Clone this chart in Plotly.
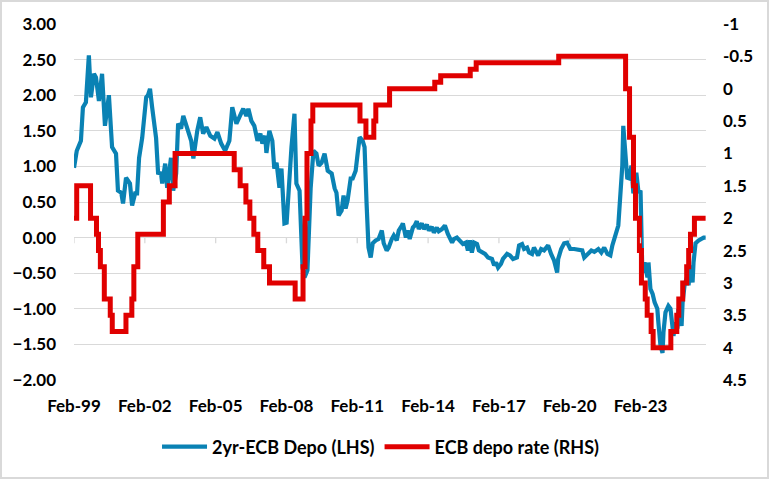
import plotly.graph_objects as go

# 2yr yield minus ECB depo (LHS)
blue_dates = [
    "1999-02-01", "1999-03-16", "1999-05-19", "1999-06-19", "1999-08-04", "1999-09-19", "1999-10-21",
    "1999-12-07", "2000-01-07", "2000-02-22", "2000-04-10", "2000-05-25", "2000-07-25", "2000-09-12",
    "2000-11-12", "2000-12-12", "2001-02-01", "2001-03-01", "2001-04-16", "2001-06-16", "2001-07-19",
    "2001-09-04", "2001-10-04", "2001-11-04", "2001-12-22", "2002-02-22", "2002-03-22", "2002-04-22",
    "2002-05-25", "2002-07-25", "2002-08-25", "2002-10-10", "2002-10-28", "2002-12-13", "2003-01-13",
    "2003-03-13", "2003-04-16", "2003-06-01", "2003-07-01", "2003-08-16", "2003-09-19", "2003-11-19",
    "2004-01-19", "2004-02-22", "2004-04-22", "2004-06-07", "2004-07-22", "2004-09-10", "2004-11-10",
    "2005-01-13", "2005-02-28", "2005-04-28", "2005-06-28", "2005-09-01", "2005-10-16", "2005-12-19",
    "2006-02-19", "2006-04-04", "2006-05-22", "2006-06-22", "2006-08-07", "2006-09-22", "2006-11-10",
    "2006-12-25", "2007-01-25", "2007-03-10", "2007-03-28", "2007-05-13", "2007-06-28", "2007-07-28",
    "2007-09-01", "2007-10-16", "2007-11-16", "2008-01-01", "2008-02-04", "2008-03-19", "2008-04-19",
    "2008-06-04", "2008-07-04", "2008-08-22", "2008-10-07", "2008-11-07", "2008-12-22", "2009-02-10",
    "2009-03-25", "2009-05-10", "2009-06-13", "2009-07-28", "2009-09-13", "2009-11-01", "2010-01-01",
    "2010-02-16", "2010-03-16", "2010-04-19", "2010-06-04", "2010-07-04", "2010-08-04", "2010-09-04",
    "2010-10-22", "2010-11-22", "2011-01-07", "2011-02-07", "2011-03-10", "2011-04-25", "2011-05-25",
    "2011-06-25", "2011-07-25", "2011-08-28", "2011-09-28", "2011-11-13", "2011-12-28", "2012-02-16",
    "2012-03-16", "2012-05-01", "2012-06-01", "2012-07-19", "2012-08-19", "2012-10-04", "2012-11-04",
    "2012-12-22", "2013-01-07", "2013-02-22", "2013-03-22", "2013-04-22", "2013-06-10", "2013-07-10",
    "2013-08-10", "2013-09-10", "2013-10-28", "2013-11-28", "2014-01-13", "2014-02-13", "2014-04-01",
    "2014-05-01", "2014-06-16", "2014-07-16", "2014-09-04", "2014-10-19", "2014-12-04", "2015-02-07",
    "2015-03-07", "2015-04-22", "2015-06-07", "2015-07-25", "2015-09-10", "2015-10-10", "2015-11-10",
    "2015-12-10", "2016-01-13", "2016-02-28", "2016-03-28", "2016-05-13", "2016-07-01", "2016-08-16",
    "2016-10-16", "2016-11-19", "2016-12-19", "2017-01-19", "2017-03-04", "2017-04-04", "2017-06-07",
    "2017-07-22", "2017-09-07", "2017-11-07", "2017-12-10", "2018-01-25", "2018-02-25", "2018-04-13",
    "2018-05-13", "2018-06-28", "2018-07-28", "2018-10-01", "2018-11-16", "2019-01-01", "2019-03-04",
    "2019-04-19", "2019-06-04", "2019-07-22", "2019-08-07", "2019-09-22", "2019-11-07", "2019-12-25",
    "2020-02-10", "2020-04-10", "2020-06-13", "2020-08-13", "2020-09-13", "2020-11-16", "2021-01-01",
    "2021-02-16", "2021-04-19", "2021-06-04", "2021-07-19", "2021-09-07", "2021-10-22", "2021-11-22",
    "2022-01-07", "2022-02-22", "2022-03-22", "2022-04-25", "2022-05-10", "2022-06-10", "2022-07-10",
    "2022-08-13", "2022-09-13", "2022-10-13", "2022-11-28", "2023-01-01", "2023-02-01", "2023-03-01",
    "2023-04-04", "2023-05-19", "2023-06-04", "2023-07-04", "2023-08-07", "2023-09-07", "2023-10-19",
    "2023-11-04", "2023-12-07", "2024-01-07", "2024-01-22", "2024-02-22", "2024-04-07", "2024-05-10",
    "2024-06-10", "2024-06-25", "2024-07-25", "2024-08-25", "2024-09-10", "2024-10-28", "2024-11-13",
    "2024-12-13", "2025-01-28", "2025-02-13", "2025-03-16", "2025-04-16", "2025-05-01", "2025-06-01",
    "2025-07-19", "2025-08-19", "2025-10-04", "2025-11-04",
]
blue_vals = [
    0.98, 1.22, 1.36, 1.83, 1.90, 2.56, 1.97,
    2.30, 2.25, 1.92, 2.30, 1.57, 2.00, 1.27,
    1.18, 0.66, 0.63, 0.48, 0.84, 0.76, 0.45,
    0.62, 0.62, 1.12, 1.40, 1.97, 2.00, 2.09,
    1.83, 1.40, 0.91, 0.90, 0.76, 1.04, 0.70,
    1.12, 0.66, 0.90, 1.60, 1.53, 1.71, 1.55,
    1.36, 1.11, 1.50, 1.69, 1.46, 1.55, 1.43,
    1.39, 1.48, 1.32, 1.22, 1.36, 1.83, 1.60,
    1.74, 1.81, 1.71, 1.81, 1.64, 1.57, 1.36,
    1.46, 1.32, 1.43, 1.19, 1.50, 1.36, 0.97,
    1.05, 0.70, 0.97, 0.20, 0.21, 0.94, 1.27,
    1.74, 0.76, 0.66, -0.42, -0.56, -0.46, 0.70,
    1.22, 1.18, 1.01, 1.05, 1.18, 0.94, 0.90,
    0.69, 0.63, 0.31, 0.38, 0.59, 0.41, 0.52,
    0.83, 0.83, 0.94, 1.18, 1.41, 1.36, 1.27,
    0.48, -0.14, -0.28, -0.08, -0.04, -0.02, 0.10,
    -0.08, -0.18, -0.14, -0.02, 0.03, -0.04, 0.10,
    0.17, 0.20, 0.00, 0.10, -0.02, 0.14, 0.17,
    0.23, 0.12, 0.20, 0.12, 0.18, 0.10, 0.15,
    0.07, 0.14, 0.09, 0.12, 0.17, 0.05, -0.07,
    -0.02, 0.00, -0.04, -0.09, -0.07, -0.18, -0.04,
    -0.21, -0.07, -0.09, -0.18, -0.21, -0.23, -0.28,
    -0.30, -0.39, -0.35, -0.42, -0.37, -0.30, -0.23,
    -0.25, -0.30, -0.28, -0.11, -0.09, -0.16, -0.14,
    -0.21, -0.23, -0.14, -0.25, -0.16, -0.18, -0.11,
    -0.23, -0.32, -0.49, -0.30, -0.16, -0.08, -0.07,
    -0.16, -0.16, -0.17, -0.18, -0.28, -0.21, -0.18,
    -0.20, -0.16, -0.21, -0.14, -0.23, -0.25, -0.11,
    0.03, 0.17, 0.55, 1.01, 1.57, 1.25, 0.84,
    0.83, 1.01, 0.62, 0.91, 0.63, 0.66, -0.49,
    -0.35, -0.56, -0.35, -0.72, -0.79, -0.91, -1.00,
    -1.19, -1.52, -1.62, -1.33, -1.05, -0.96, -1.00,
    -1.19, -1.38, -1.19, -1.28, -1.00, -1.24, -0.91,
    -0.67, -0.53, -0.67, -0.39, -0.63, -0.35, -0.08,
    -0.04, -0.02, 0.00, 0.00,
]

# ECB deposit rate (RHS, inverted), step changes
red_dates = [
    "1999-02-01", "1999-03-15", "1999-10-15", "2000-01-15", "2000-02-15", "2000-03-15", "2000-05-15",
    "2000-08-15", "2000-09-15", "2001-04-15", "2001-07-15", "2001-08-15", "2001-10-15", "2002-11-15",
    "2003-02-15", "2003-05-15", "2005-11-15", "2006-02-15", "2006-05-15", "2006-07-15", "2006-09-15",
    "2006-11-15", "2007-02-15", "2007-05-15", "2008-06-15", "2008-10-15", "2008-11-15", "2008-12-15",
    "2009-02-15", "2009-03-15", "2011-03-15", "2011-06-15", "2011-10-15", "2011-11-15", "2012-06-15",
    "2014-05-15", "2014-08-15", "2015-11-15", "2016-02-15", "2019-08-15", "2022-06-15", "2022-08-15",
    "2022-10-15", "2022-11-15", "2023-01-15", "2023-02-15", "2023-04-15", "2023-05-15", "2023-07-15",
    "2023-08-15", "2024-05-15", "2024-08-15", "2024-09-15", "2024-11-15", "2025-01-15", "2025-02-15",
    "2025-03-15", "2025-05-15", "2025-11-04",
]
red_vals = [
    2.00, 1.50, 2.00, 2.25, 2.50, 2.75, 3.25,
    3.50, 3.75, 3.50, 3.25, 2.75, 2.25, 1.75,
    1.50, 1.00, 1.25, 1.50, 1.75, 2.00, 2.25,
    2.50, 2.75, 3.00, 3.25, 2.75, 2.00, 1.00,
    0.50, 0.25, 0.50, 0.75, 0.50, 0.25, 0.00,
    -0.10, -0.20, -0.30, -0.40, -0.50, 0.00, 0.75,
    1.50, 2.00, 2.50, 3.00, 3.25, 3.50, 3.75,
    4.00, 3.75, 3.50, 3.25, 3.00, 2.75, 2.50,
    2.25, 2.00, 2.00,
]

tick_dates = ["1999-02-01", "2002-02-01", "2005-02-01", "2008-02-01", "2011-02-01",
              "2014-02-01", "2017-02-01", "2020-02-01", "2023-02-01"]
tick_text = ["Feb-99", "Feb-02", "Feb-05", "Feb-08", "Feb-11",
             "Feb-14", "Feb-17", "Feb-20", "Feb-23"]
left_ticks = [3.0, 2.5, 2.0, 1.5, 1.0, 0.5, 0.0, -0.5, -1.0, -1.5, -2.0]
right_ticks = [-1, -0.5, 0, 0.5, 1, 1.5, 2, 2.5, 3, 3.5, 4, 4.5]

BLUE = "#0A82B4"
RED = "#E00000"
GRID = "#D9D9D9"
FONT = "Lato"
TICKFONT = dict(family=FONT, size=17, color="#000000", weight="bold")

fig = go.Figure()
fig.add_trace(go.Scatter(x=blue_dates, y=blue_vals, mode="lines", name="2yr-ECB Depo (LHS)",
                         line=dict(color=BLUE, width=4.2), yaxis="y"))
fig.add_trace(go.Scatter(x=red_dates, y=red_vals, mode="lines", name="ECB depo rate (RHS)",
                         line=dict(color=RED, width=5, shape="hv"), yaxis="y2"))

shapes = []
for d in tick_dates:
    shapes.append(dict(type="line", xref="x", yref="y", x0=d, x1=d, y0=0, y1=-0.08,
                       line=dict(color=GRID, width=1.3)))
# outer chart border
shapes.append(dict(type="rect", xref="paper", yref="paper",
                   x0=-73 / 632, x1=694 / 632, y0=-98 / 356, y1=23 / 356 + 1,
                   line=dict(color=GRID, width=2)))

fig.update_layout(
    template="none",
    width=769, height=479,
    margin=dict(l=74, r=63, t=24, b=99, autoexpand=False),
    paper_bgcolor="white", plot_bgcolor="white",
    font=dict(family=FONT, size=17, color="#000000"),
    showlegend=True,
    legend=dict(orientation="h", x=0.485, xanchor="center", y=-0.188, yanchor="middle",
                font=dict(family=FONT, size=18, color="#000000", weight="bold"),
                traceorder="normal", bgcolor="rgba(0,0,0,0)", itemwidth=45),
    xaxis=dict(type="date", range=["1999-02-01", "2025-11-10"], tickvals=tick_dates,
               ticktext=tick_text, showgrid=False, zeroline=False, showline=False,
               ticks="", ticklabelstandoff=14, automargin=False, tickfont=TICKFONT),
    yaxis=dict(range=[-2, 3], tickvals=left_ticks, tickformat=".2f", showgrid=True,
               gridcolor=GRID, gridwidth=1.3, zeroline=True, zerolinecolor=GRID,
               zerolinewidth=1.3, showline=False, ticks="", ticklabelstandoff=17,
               automargin=False, tickfont=TICKFONT),
    yaxis2=dict(range=[4.5, -1], tickvals=right_ticks,
                ticktext=[f"{v:g}" for v in right_ticks], overlaying="y", side="right",
                showgrid=False, zeroline=False, showline=False, ticks="", ticklabelstandoff=16,
                automargin=False, tickfont=TICKFONT),
    shapes=shapes,
)

fig.write_html("out.html", config={"displayModeBar": False},
               post_script="document.body.style.margin='0';document.body.style.overflow='hidden';")
